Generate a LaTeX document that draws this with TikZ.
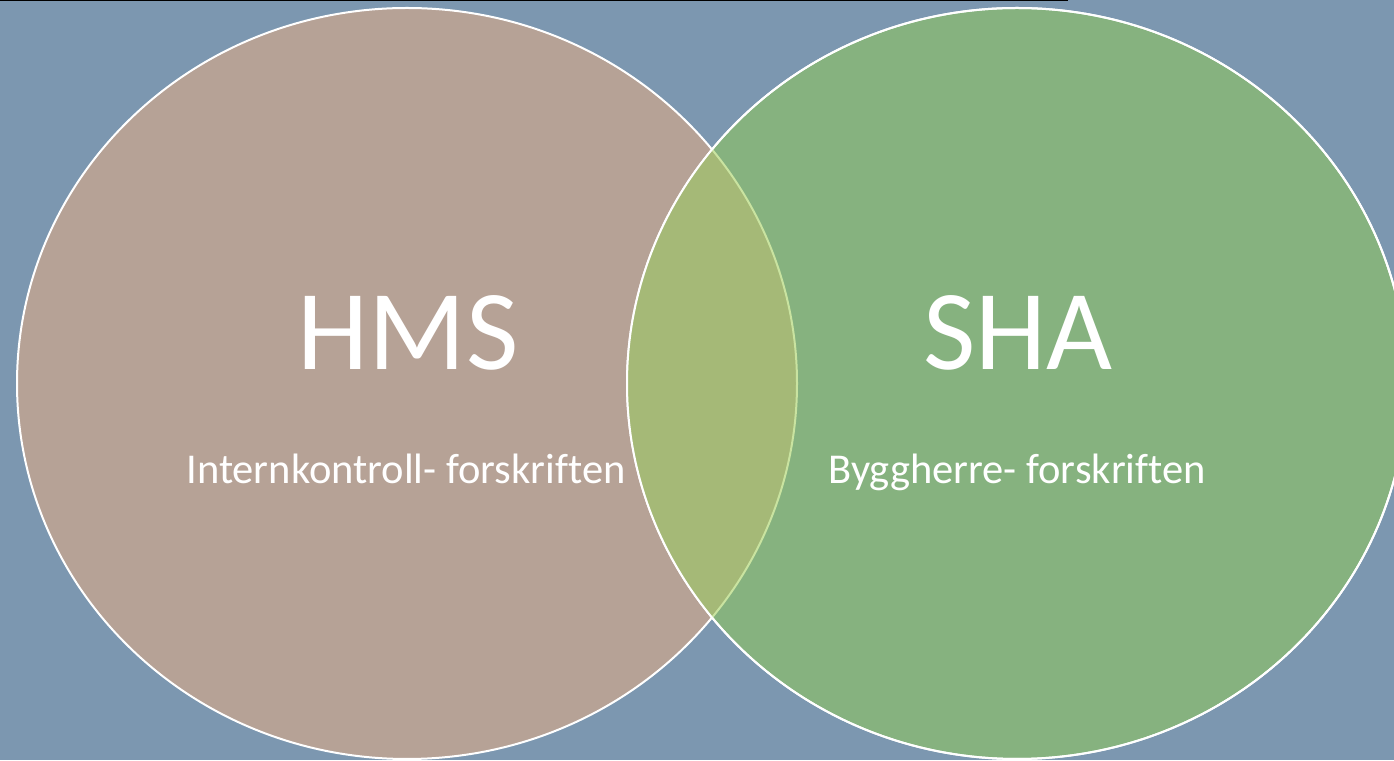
\documentclass[tikz,border=0pt]{standalone}
\usepackage{fontspec}
\setmainfont[Ligatures={NoCommon}]{Carlito}
\usepackage{tikz}
\usetikzlibrary{positioning}

\definecolor{slate}{HTML}{7C97B0}
\definecolor{hmscol}{HTML}{B6A296}
\definecolor{shacol}{HTML}{86B27F}
\definecolor{lenscol}{HTML}{A5B977}
\definecolor{lensrim}{HTML}{C9E3A0}

\tikzset{bigword/.style={text=white, font=\fontsize{114}{114}\selectfont, anchor=base, inner sep=0pt},
         smallword/.style={text=white, font=\fontsize{42.5}{42.5}\selectfont, anchor=base, inner sep=0pt}}

\begin{document}
\begin{tikzpicture}[x=1pt,y=1pt]

\useasboundingbox (0,0) rectangle (1394,760);
\fill[slate] (0,0) rectangle (1394,760);
\draw[black, line width=2pt] (0,759.5)--(1068,759.5);

\filldraw[fill=hmscol, draw=white, line width=2pt] (407,376.5) ellipse (390 and 375.5);
\filldraw[fill=shacol, draw=white, line width=2pt] (1017,376.5) ellipse (390 and 375.5);

\begin{scope}% the overlap
\clip (1017,376.5) ellipse (390 and 375.5);
\filldraw[fill=lenscol, draw=lensrim, line width=2pt] (407,376.5) ellipse (390 and 375.5);
\end{scope}
\draw[white, line width=2pt] (1017,376.5) ellipse (390 and 375.5);

\node[bigword] (hms) at (408,390) {HMS};
\node[bigword] (sha) at (1018,390) {SHA};
\node[smallword] (ikf) at (406,276) {Internkontroll- forskriften};
\node[smallword] (bhf) at (1017,276) {Byggherre- forskriften};

\end{tikzpicture}
\end{document}
